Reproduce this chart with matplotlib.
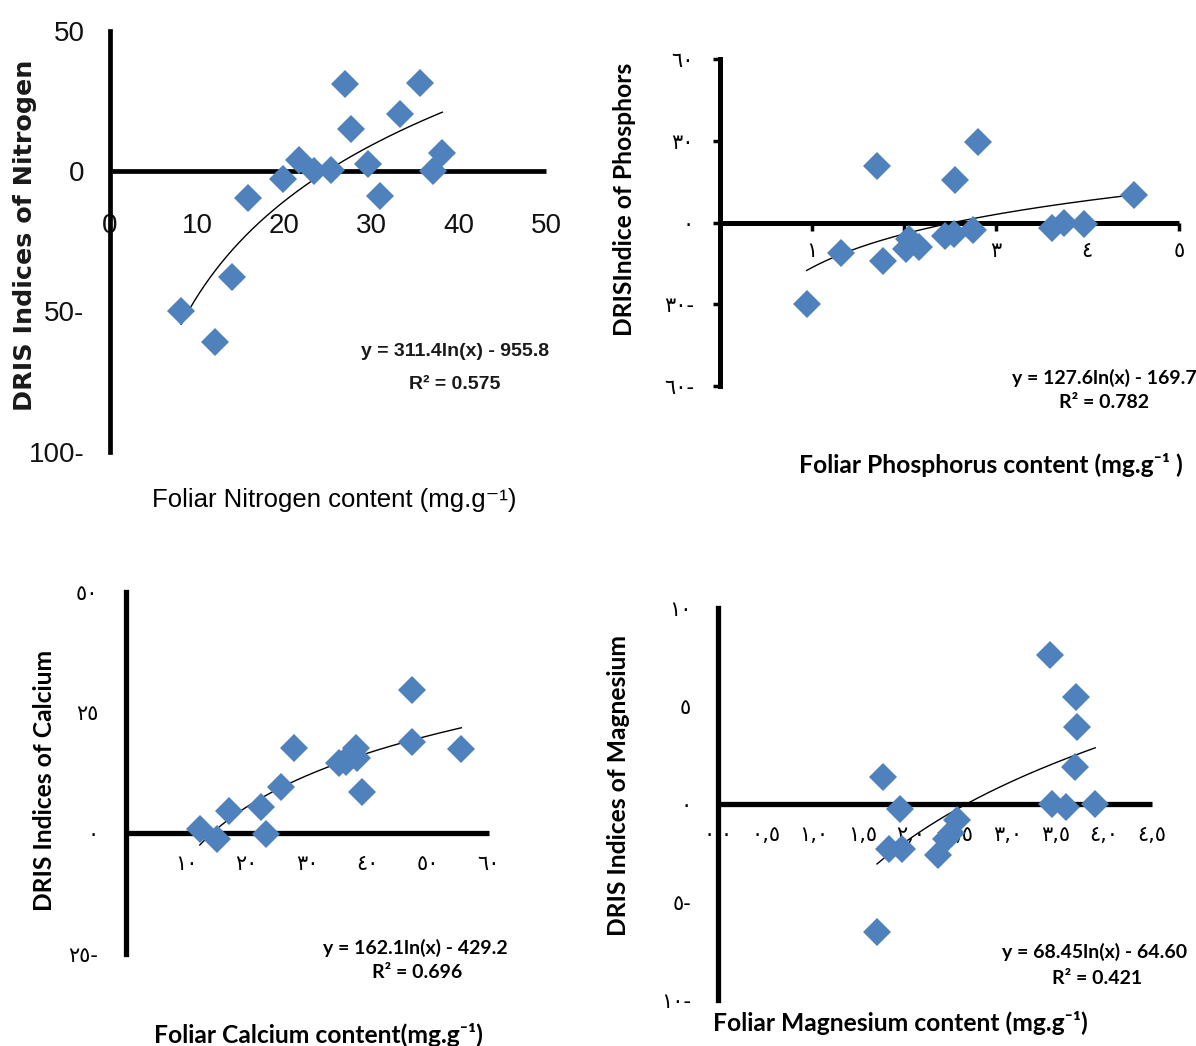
import numpy as np
import matplotlib
matplotlib.use("Agg")
import matplotlib.pyplot as plt

# ---------------- data ----------------
# Panel 1: Nitrogen
n_x = [8.2, 12.1, 14.0, 15.9, 19.9, 21.7, 23.4, 25.4, 27.0, 27.7, 29.6, 31.0, 33.3, 35.5, 37.0, 38.1]
n_y = [-49.9, -60.9, -37.7, -9.5, -3.0, 4.1, 0.0, 0.2, 31.1, 14.8, 2.6, -8.9, 20.2, 31.5, 0.0, 6.3]
n_xticks = [0, 10, 20, 30, 40, 50]
n_xticklabels = ["0", "10", "20", "30", "40", "50"]
n_yticks = [-100, -50, 0, 50]
n_yticklabels = ["100-", "50-", "0", "50"]

# Panel 2: Phosphorus
p_x = [0.94, 1.31, 1.71, 1.77, 2.02, 2.06, 2.17, 2.45, 2.55, 2.56, 2.75, 2.81, 3.61, 3.75, 3.96, 4.51]
p_y = [-29.9, -11.3, 20.7, -14.1, -9.8, -6.1, -9.0, -5.0, -4.3, 15.7, -2.6, 29.6, -2.1, 0.0, -0.4, 10.1]
p_xticks = [1, 2, 3, 4, 5]
p_xticklabels = ["١", "٢", "٣", "٤", "٥"]
p_yticks = [-60, -30, 0, 30, 60]
p_yticklabels = ["٦٠-", "٣٠-", "٠", "٣٠", "٦٠"]

# Panel 3: Calcium
c_x = [12.2, 15.1, 17.1, 22.4, 23.2, 25.6, 27.8, 35.2, 36.4, 37.4, 38.0, 38.3, 39.0, 47.3, 47.4, 55.5]
c_y = [0.8, -1.2, 4.7, 5.4, -0.1, 9.6, 17.6, 14.5, 14.8, 16.4, 17.6, 15.5, 8.6, 29.7, 18.8, 17.5]
c_xticks = [10, 20, 30, 40, 50, 60]
c_xticklabels = ["١٠", "٢٠", "٣٠", "٤٠", "٥٠", "٦٠"]
c_yticks = [-25, 0, 25, 50]
c_yticklabels = ["٢٥-", "٠", "٢٥", "٥٠"]

# Panel 4: Magnesium
m_x = [1.71, 1.89, 1.77, 1.91, 2.28, 2.36, 2.42, 2.48, 1.65, 3.44, 3.46, 3.61, 3.71, 3.72, 3.70, 3.91]
m_y = [1.37, -0.26, -2.31, -2.27, -2.6, -1.79, -1.45, -0.8, -6.55, 7.64, 0.0, -0.17, 5.47, 3.93, 1.88, 0.0]
m_xticks = [0.0, 0.5, 1.0, 1.5, 2.0, 2.5, 3.0, 3.5, 4.0, 4.5]
m_xticklabels = ["٠,٠", "٠,٥", "١,٠", "١,٥", "٢,٠", "٢,٥", "٣,٠", "٣,٥", "٤,٠", "٤,٥"]
m_yticks = [-10, -5, 0, 5, 10]
m_yticklabels = ["١٠-", "٥-", "٠", "٥", "١٠"]

# --------------- figure ----------------
W, H = 1196, 1046
fig = plt.figure(figsize=(W / 100, H / 100), dpi=100)
BLUE = "#4F81BD"
NARROW = ["Liberation Sans", "DejaVu Sans"]
LATO = ["Lato", "DejaVu Sans"]
ARAB = ["DejaVu Sans"]
LBL = 17.7
EQ = 14
ATK = 15


def make_ax(l, r, t, b, xlim, ylim, lw=3.5):
    ax = fig.add_axes([l / W, 1 - b / H, (r - l) / W, (b - t) / H])
    ax.set_xlim(*xlim)
    ax.set_ylim(*ylim)
    ax.patch.set_alpha(0)
    ax.spines["top"].set_visible(False)
    ax.spines["right"].set_visible(False)
    ax.spines["bottom"].set_position(("data", 0))
    ax.spines["bottom"].set_linewidth(lw)
    ax.spines["left"].set_linewidth(lw)
    ax.spines["bottom"].set_capstyle("butt")
    return ax


def scatter_fit(ax, x, y):
    x = np.asarray(x, float)
    y = np.asarray(y, float)
    a, b = np.polyfit(np.log(x), y, 1)
    xs = np.linspace(x.min(), x.max(), 200)
    ax.plot(xs, a * np.log(xs) + b, color="black", lw=1.0, zorder=3)
    ax.plot(x, y, linestyle="none", marker="D", ms=14, color=BLUE,
            markeredgewidth=0, zorder=4, clip_on=False)


def ftext(x, y, s, **kw):
    fig.text(x / W, 1 - y / H, s, ha="center", va="center", **kw)


# Panel 1
ax1 = make_ax(109.6, 546.2, 30.7, 451.7, (0, 50), (-100, 50), lw=3.4)
scatter_fit(ax1, n_x, n_y)
ax1.set_xticks(n_xticks)
ax1.set_xticklabels(n_xticklabels, family=NARROW, fontsize=20, color="#111111")
ax1.set_yticks(n_yticks)
ax1.set_yticklabels(n_yticklabels, family=NARROW, fontsize=20, color="#111111")
ax1.tick_params(axis="x", length=0, pad=30)
ax1.tick_params(axis="y", length=0, pad=18)
ftext(25, 235, "DRIS Indices of Nitrogen", rotation=90, family=["DejaVu Sans"],
      fontweight="bold", fontsize=18.3, color="#1a1a1a")
ftext(334, 500, "Foliar Nitrogen content (mg.g⁻¹)", family=NARROW, fontsize=18.5,
      color="black")
ftext(455, 352, "y = 311.4ln(x) - 955.8", family=NARROW, fontweight="bold", fontsize=14,
      color="#1a1a1a")
ftext(455, 384, "R² = 0.575", family=NARROW, fontweight="bold", fontsize=14,
      color="#1a1a1a")

# Panel 2
ax2 = make_ax(720.4, 1179.0, 59.3, 386.0, (0, 5), (-60, 60), lw=3.6)
scatter_fit(ax2, p_x, p_y)
ax2.set_xticks(p_xticks)
ax2.set_xticklabels(p_xticklabels, family=ARAB, fontsize=ATK)
ax2.set_yticks(p_yticks)
ax2.set_yticklabels(p_yticklabels, family=ARAB, fontsize=ATK)
ax2.tick_params(axis="x", length=6, width=2.5, direction="out", pad=7)
ax2.tick_params(axis="y", length=5, width=2.5, direction="out", pad=14)
ftext(625, 199, "DRISIndice of Phosphors", rotation=90, family=LATO,
      fontweight="bold", fontsize=LBL)
ftext(991, 465, "Foliar Phosphorus content (mg.g⁻¹ )", family=LATO,
      fontweight="bold", fontsize=LBL)
ftext(1104, 378, "y = 127.6ln(x) - 169.7", family=LATO, fontweight="bold", fontsize=EQ)
ftext(1104, 403, "R² = 0.782", family=LATO, fontweight="bold", fontsize=EQ)

# Panel 3
ax3 = make_ax(126.1, 488.5, 591.7, 954.0, (0, 60), (-25, 50), lw=3.8)
scatter_fit(ax3, c_x, c_y)
ax3.set_xticks(c_xticks)
ax3.set_xticklabels(c_xticklabels, family=ARAB, fontsize=ATK)
ax3.set_yticks(c_yticks)
ax3.set_yticklabels(c_yticklabels, family=ARAB, fontsize=ATK)
ax3.tick_params(axis="x", length=0, pad=15)
ax3.tick_params(axis="y", length=0, pad=20)
ftext(45, 780, "DRIS Indices of Calcium", rotation=90, family=LATO,
      fontweight="bold", fontsize=LBL)
ftext(318, 1035, "Foliar Calcium content(mg.g⁻¹)", family=LATO,
      fontweight="bold", fontsize=LBL)
ftext(415, 948, "y = 162.1ln(x) - 429.2", family=LATO, fontweight="bold", fontsize=EQ)
ftext(417, 973, "R² = 0.696", family=LATO, fontweight="bold", fontsize=EQ)

# Panel 4
ax4 = make_ax(717.7, 1152.2, 608.3, 1000.0, (0, 4.5), (-10, 10), lw=3.8)
scatter_fit(ax4, m_x, m_y)
ax4.set_xticks(m_xticks)
ax4.set_xticklabels(m_xticklabels, family=ARAB, fontsize=ATK)
ax4.set_yticks(m_yticks)
ax4.set_yticklabels(m_yticklabels, family=ARAB, fontsize=ATK)
ax4.tick_params(axis="x", length=0, pad=15)
ax4.tick_params(axis="y", length=0, pad=19)
ftext(618, 785, "DRIS Indices of Magnesium", rotation=90, family=LATO,
      fontweight="bold", fontsize=LBL)
ftext(900, 1023, "Foliar Magnesium content (mg.g⁻¹)", family=LATO,
      fontweight="bold", fontsize=LBL)
ftext(1095, 952, "y = 68.45ln(x) - 64.60", family=LATO, fontweight="bold", fontsize=EQ)
ftext(1097, 978, "R² = 0.421", family=LATO, fontweight="bold", fontsize=EQ)

fig.savefig("out.png", dpi=100)
